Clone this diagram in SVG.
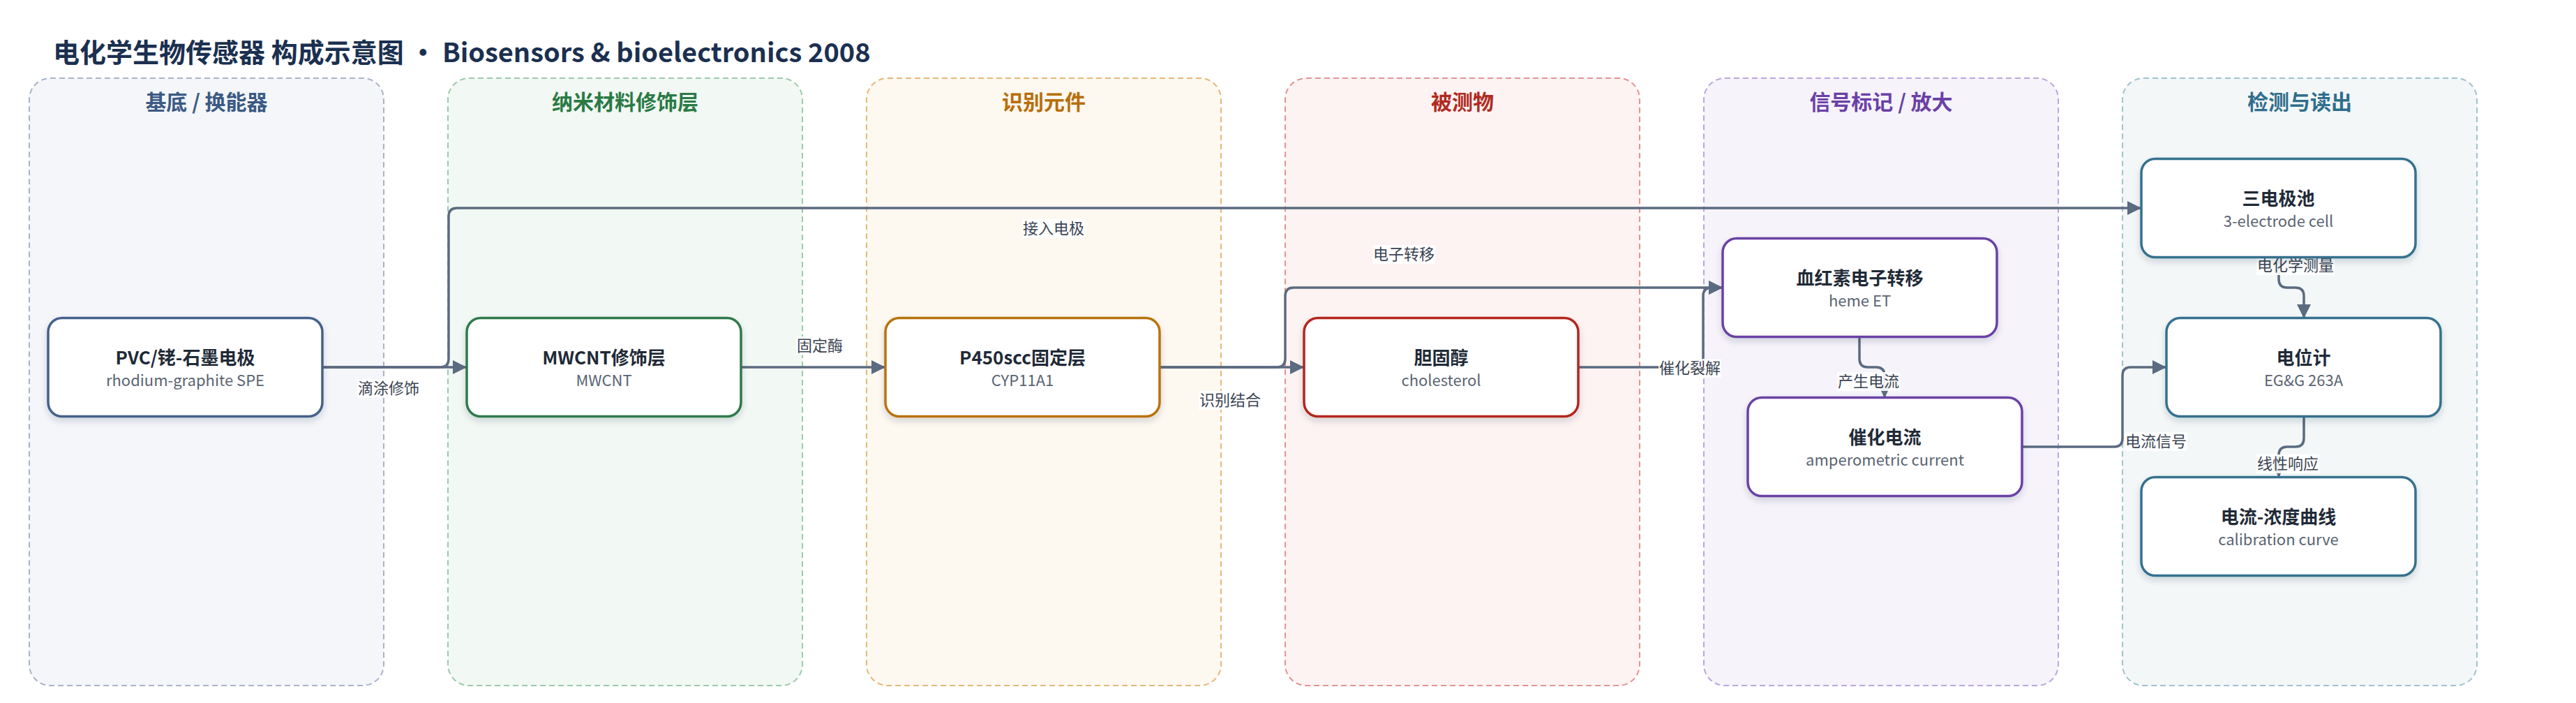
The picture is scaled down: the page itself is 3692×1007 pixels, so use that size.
<svg xmlns="http://www.w3.org/2000/svg" width="3692" height="1007" viewBox="0 0 3692 1007">
<defs>
<style>
.cn{font-family:"Noto Sans CJK SC","Noto Sans",sans-serif;}
.title{font-size:38px;font-weight:700;fill:#1b3050;}
.lane{stroke-width:2;stroke-dasharray:8 5;}
.lt{font-size:30px;font-weight:700;text-anchor:middle;}
.node{fill:#ffffff;stroke-width:3.5;filter:url(#sh);}
.nt{font-size:26px;font-weight:700;fill:#1f2a37;text-anchor:middle;}
.ns{font-size:22px;fill:#5a6472;text-anchor:middle;}
.edge{fill:none;stroke:#5b6b80;stroke-width:3.5;marker-end:url(#arr);}
.lb{fill:#ffffff;fill-opacity:0.9;}
.el{font-size:22px;fill:#3a4452;text-anchor:middle;}
</style>
<filter id="sh" x="-10%" y="-20%" width="120%" height="150%">
<feDropShadow dx="0" dy="5" stdDeviation="5" flood-color="#1f2a37" flood-opacity="0.16"/>
</filter>
<marker id="arr" markerUnits="userSpaceOnUse" markerWidth="22" markerHeight="22" refX="20" refY="10" orient="auto">
<path d="M0,0 L20,10 L0,20 z" fill="#5b6b80"/>
</marker>
</defs>
<rect width="3692" height="1007" fill="#ffffff"/>
<text class="cn title" x="76" y="89">电化学生物传感器 构成示意图 • Biosensors &amp; bioelectronics 2008</text>

<g id="lane-substrate">
<rect class="lane" x="42" y="112" width="508" height="870" rx="30" fill="#f4f6fa" stroke="#a7b4c8"/>
<text class="cn lt" x="296" y="157" fill="#3b5a82">基底 / 换能器</text>
</g>
<g id="lane-nano">
<rect class="lane" x="642" y="112" width="508" height="870" rx="30" fill="#f2f8f4" stroke="#9ccaa9"/>
<text class="cn lt" x="896" y="157" fill="#2a7a45">纳米材料修饰层</text>
</g>
<g id="lane-recog">
<rect class="lane" x="1242" y="112" width="508" height="870" rx="30" fill="#fdf8f0" stroke="#e3b979"/>
<text class="cn lt" x="1496" y="157" fill="#b86e0a">识别元件</text>
</g>
<g id="lane-analyte">
<rect class="lane" x="1842" y="112" width="508" height="870" rx="30" fill="#fdf3f2" stroke="#e29492"/>
<text class="cn lt" x="2096" y="157" fill="#b02a22">被测物</text>
</g>
<g id="lane-signal">
<rect class="lane" x="2442" y="112" width="508" height="870" rx="30" fill="#f6f3fb" stroke="#bba6dd"/>
<text class="cn lt" x="2696" y="157" fill="#6b3fa6">信号标记 / 放大</text>
</g>
<g id="lane-detect">
<rect class="lane" x="3042" y="112" width="508" height="870" rx="30" fill="#f3f7f8" stroke="#a0c2cf"/>
<text class="cn lt" x="3296" y="157" fill="#2f6e8c">检测与读出</text>
</g>

<g id="connectors">
<path class="edge" d="M462,526 L669,526"/>
<path class="edge" d="M462,526 L631,526 Q643,526 643,514 L643,310 Q643,298 655,298 L3069,298"/>
<path class="edge" d="M1062,526 L1269,526"/>
<path class="edge" d="M1662,526 L1869,526"/>
<path class="edge" d="M1662,526 L1830,526 Q1842,526 1842,514 L1842,424 Q1842,412 1854,412 L2469,412"/>
<path class="edge" d="M2262,526 L2429,526 Q2441,526 2441,514 L2441,424 Q2441,412 2453,412 L2469,412"/>
<path class="edge" d="M2665,482 L2665,514 Q2665,526 2677,526 L2689,526 Q2701,526 2701,538 L2701,570"/>
<path class="edge" d="M2898,640 L3030,640 Q3042,640 3042,628 L3042,538 Q3042,526 3054,526 L3105,526"/>
<path class="edge" d="M3266,368 L3266,400 Q3266,412 3278,412 L3290,412 Q3302,412 3302,424 L3302,456"/>
<path class="edge" d="M3302,596 L3302,628 Q3302,640 3290,640 L3278,640 Q3266,640 3266,652 L3266,684"/>
<g id="edge-labels">
<rect class="lb" x="512" y="543" width="90" height="27"/>
<text class="cn el" x="557" y="564">滴涂修饰</text>
<rect class="lb" x="1465" y="314" width="90" height="27"/>
<text class="cn el" x="1510" y="335">接入电极</text>
<rect class="lb" x="1141" y="482" width="68" height="27"/>
<text class="cn el" x="1175" y="503">固定酶</text>
<rect class="lb" x="1718" y="560" width="90" height="27"/>
<text class="cn el" x="1763" y="581">识别结合</text>
<rect class="lb" x="1967" y="351" width="90" height="27"/>
<text class="cn el" x="2012" y="372">电子转移</text>
<rect class="lb" x="2377" y="514" width="90" height="27"/>
<text class="cn el" x="2422" y="535">催化裂解</text>
<rect class="lb" x="2633" y="533" width="90" height="27"/>
<text class="cn el" x="2678" y="554">产生电流</text>
<rect class="lb" x="3045" y="619" width="90" height="27"/>
<text class="cn el" x="3090" y="640">电流信号</text>
<rect class="lb" x="3234" y="367" width="112" height="27"/>
<text class="cn el" x="3290" y="388">电化学测量</text>
<rect class="lb" x="3234" y="651" width="90" height="27"/>
<text class="cn el" x="3279" y="672">线性响应</text>
</g>
</g>

<g id="node-pvc">
<rect class="node" x="69" y="455.5" width="393" height="141" rx="20" stroke="#45618a"/>
<text class="cn nt" x="265.5" y="522">PVC/铑-石墨电极</text>
<text class="cn ns" x="265.5" y="553">rhodium-graphite SPE</text>
</g>
<g id="node-mwcnt">
<rect class="node" x="669" y="455.5" width="393" height="141" rx="20" stroke="#2d7a4c"/>
<text class="cn nt" x="865.5" y="522">MWCNT修饰层</text>
<text class="cn ns" x="865.5" y="553">MWCNT</text>
</g>
<g id="node-p450">
<rect class="node" x="1269" y="455.5" width="393" height="141" rx="20" stroke="#b8730d"/>
<text class="cn nt" x="1465.5" y="522">P450scc固定层</text>
<text class="cn ns" x="1465.5" y="553">CYP11A1</text>
</g>
<g id="node-cholesterol">
<rect class="node" x="1869" y="455.5" width="393" height="141" rx="20" stroke="#b3271f"/>
<text class="cn nt" x="2065.5" y="522">胆固醇</text>
<text class="cn ns" x="2065.5" y="553">cholesterol</text>
</g>
<g id="node-heme">
<rect class="node" x="2469" y="341.5" width="393" height="141" rx="20" stroke="#6a42a4"/>
<text class="cn nt" x="2665.5" y="408">血红素电子转移</text>
<text class="cn ns" x="2665.5" y="439">heme ET</text>
</g>
<g id="node-current">
<rect class="node" x="2505" y="569.5" width="393" height="141" rx="20" stroke="#6a42a4"/>
<text class="cn nt" x="2701.5" y="636">催化电流</text>
<text class="cn ns" x="2701.5" y="667">amperometric current</text>
</g>
<g id="node-cell">
<rect class="node" x="3069" y="227.5" width="393" height="141" rx="20" stroke="#35718e"/>
<text class="cn nt" x="3265.5" y="294">三电极池</text>
<text class="cn ns" x="3265.5" y="325">3-electrode cell</text>
</g>
<g id="node-potentiostat">
<rect class="node" x="3105" y="455.5" width="393" height="141" rx="20" stroke="#35718e"/>
<text class="cn nt" x="3301.5" y="522">电位计</text>
<text class="cn ns" x="3301.5" y="553">EG&amp;G 263A</text>
</g>
<g id="node-curve">
<rect class="node" x="3069" y="683.5" width="393" height="141" rx="20" stroke="#35718e"/>
<text class="cn nt" x="3265.5" y="750">电流-浓度曲线</text>
<text class="cn ns" x="3265.5" y="781">calibration curve</text>
</g>
</svg>
